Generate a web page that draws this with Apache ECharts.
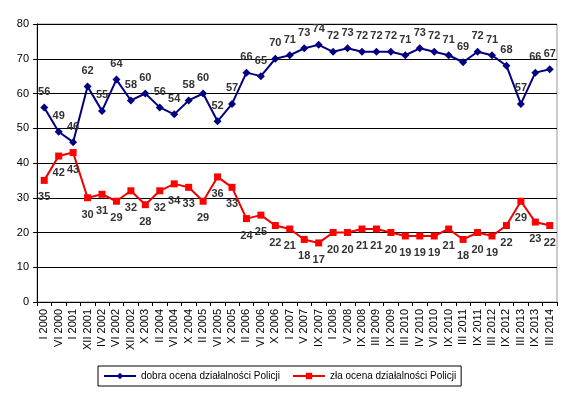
<!DOCTYPE html>
<html><head><meta charset="utf-8">
<script src="https://cdn.jsdelivr.net/npm/echarts@6/dist/echarts.min.js"></script>
<style>html,body{margin:0;padding:0;background:#fff}#c{width:572px;height:393px}</style>
</head><body><div id="c"></div>
<script>
const categories = ["I 2000","VI 2000","I 2001","XII 2001","IV 2002","VI 2002","XII 2002","X 2003","II 2004","VI 2004","X 2004","II 2005","VI 2005","X 2005","II 2006","VI 2006","X 2006","I 2007","V 2007","IX 2007","I 2008","V 2008","IX 2008","III 2009","IX 2009","III 2010","IV 2010","VI 2010","IX 2010","III 2011","IX 2011","III 2012","IX 2012","III 2013","IX 2013","III 2014"];
const goodName = "dobra ocena działalności Policji";
const badName = "zła ocena działalności Policji";
const goodValues = [56,49,46,62,55,64,58,60,56,54,58,60,52,57,66,65,70,71,73,74,72,73,72,72,72,71,73,72,71,69,72,71,68,57,66,67];
const badValues = [35,42,43,30,31,29,32,28,32,34,33,29,36,33,24,25,22,21,18,17,20,20,21,21,20,19,19,19,21,18,20,19,22,29,23,22];
const yTicks = {min:0, max:80, interval:10};

const chart = echarts.init(document.getElementById('c'));
const lblFont = {fontFamily:'Arial, "Liberation Sans"', fontSize:11, fontWeight:'bold', color:'#333'};
chart.setOption({
  animation:false,
  textStyle:{fontFamily:'Arial, "Liberation Sans"'},
  grid:{left:37,right:15,top:24,bottom:91,show:true,borderColor:'#999',borderWidth:1},
  legend:{
    top:366, left:98, orient:'horizontal',
    data:[goodName,badName],
    itemWidth:32, itemHeight:8, itemGap:12,
    borderColor:'#000', borderWidth:1, padding:[5,5,5,5],
    textStyle:{fontSize:10,color:'#000',fontFamily:'Arial, "Liberation Sans"'}
  },
  xAxis:{
    type:'category', data:categories, boundaryGap:true,
    axisLine:{lineStyle:{color:'#000'}},
    axisTick:{show:true,length:4,lineStyle:{color:'#000'}},
    axisLabel:{rotate:90,fontSize:11,color:'#000',interval:0,margin:7}
  },
  yAxis:{
    type:'value', min:yTicks.min, max:yTicks.max, interval:yTicks.interval,
    axisLine:{show:true,lineStyle:{color:'#000'}},
    axisTick:{show:true,length:4,lineStyle:{color:'#000'}},
    axisLabel:{fontSize:11,color:'#000',margin:8},
    splitLine:{lineStyle:{color:'#000',width:1}}
  },
  series:[
    {name:goodName,type:'line',data:goodValues,color:'#000080',
     symbol:'diamond',symbolSize:8,lineStyle:{width:2,color:'#000080'},itemStyle:{color:'#000080'},
     label:{show:true,position:'top',distance:6,...lblFont}},
    {name:badName,type:'line',data:badValues,color:'#ff0000',
     symbol:'rect',symbolSize:7,lineStyle:{width:2,color:'#ee0000'},itemStyle:{color:'#ff0000'},
     label:{show:true,position:'bottom',distance:8,...lblFont}}
  ]
});
</script></body></html>
